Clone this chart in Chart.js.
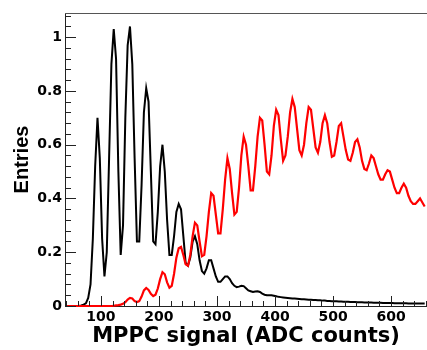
<!DOCTYPE html>
<html>
<head>
<meta charset="utf-8">
<script src="https://cdn.jsdelivr.net/npm/chart.js@4.4.1/dist/chart.umd.min.js"></script>
<style>
  html, body { margin: 0; padding: 0; background: #fff; }
</style>
</head>
<body>
<canvas id="mppc" width="427" height="350"></canvas>
<script>
// histogram binning (ADC counts)
const binStart = 40;
const binWidth = 4;

// pedestal / dark-noise spectrum (black), one value per bin, 10 bins per row
const darkEntries = [
  0, 0, 0, 0, 0, 0, 0.002, 0.005, 0.01, 0.03,                       // 40
  0.08, 0.25, 0.52, 0.70, 0.55, 0.25, 0.11, 0.20, 0.55, 0.90,       // 80
  1.03, 0.92, 0.50, 0.19, 0.30, 0.70, 0.97, 1.04, 0.90, 0.55,       // 120
  0.24, 0.24, 0.45, 0.72, 0.81, 0.76, 0.50, 0.24, 0.23, 0.35,       // 160
  0.52, 0.60, 0.50, 0.32, 0.19, 0.19, 0.26, 0.35, 0.38, 0.36,       // 200
  0.26, 0.16, 0.15, 0.18, 0.24, 0.26, 0.23, 0.17, 0.13, 0.12,       // 240
  0.14, 0.17, 0.17, 0.14, 0.11, 0.09, 0.09, 0.10, 0.11, 0.11,       // 280
  0.10, 0.085, 0.075, 0.07, 0.072, 0.075, 0.074, 0.066, 0.058, 0.055, // 320
  0.052, 0.054, 0.055, 0.052, 0.046, 0.042, 0.040, 0.040, 0.040, 0.038, // 360
  0.036, 0.034, 0.033, 0.032, 0.031, 0.030, 0.029, 0.028, 0.028, 0.027, // 400
  0.026, 0.025, 0.025, 0.024, 0.023, 0.023, 0.022, 0.022, 0.021, 0.021, // 440
  0.020, 0.020, 0.019, 0.019, 0.018, 0.018, 0.018, 0.017, 0.017, 0.016, // 480
  0.016, 0.016, 0.015, 0.015, 0.015, 0.014, 0.014, 0.014, 0.013, 0.013, // 520
  0.013, 0.013, 0.012, 0.012, 0.012, 0.012, 0.011, 0.011, 0.011, 0.011, // 560
  0.011, 0.010, 0.010, 0.010, 0.010, 0.010, 0.010, 0.009, 0.009, 0.009, // 600
  0.009, 0.009, 0.009, 0.009, 0.009                                   // 640
];

// LED / light spectrum (red)
const lightEntries = [
  0, 0, 0, 0, 0, 0, 0, 0, 0, 0,                                     // 40
  0, 0, 0, 0, 0, 0, 0, 0, 0, 0,                                     // 80
  0.001, 0.002, 0.003, 0.005, 0.008, 0.014, 0.024, 0.030, 0.028, 0.018, // 120
  0.015, 0.018, 0.035, 0.058, 0.067, 0.060, 0.045, 0.037, 0.042, 0.065, // 160
  0.10, 0.126, 0.118, 0.088, 0.068, 0.075, 0.12, 0.18, 0.215, 0.22, // 200
  0.19, 0.155, 0.15, 0.19, 0.26, 0.31, 0.30, 0.24, 0.185, 0.19,     // 240
  0.26, 0.35, 0.42, 0.41, 0.34, 0.27, 0.27, 0.36, 0.47, 0.55,       // 280
  0.51, 0.42, 0.34, 0.35, 0.44, 0.56, 0.63, 0.60, 0.52, 0.43,       // 320
  0.43, 0.52, 0.63, 0.70, 0.69, 0.60, 0.50, 0.49, 0.56, 0.67,       // 360
  0.73, 0.71, 0.62, 0.54, 0.56, 0.63, 0.72, 0.77, 0.74, 0.66,       // 400
  0.58, 0.56, 0.60, 0.68, 0.74, 0.73, 0.66, 0.59, 0.57, 0.61,       // 440
  0.68, 0.71, 0.68, 0.61, 0.555, 0.56, 0.61, 0.67, 0.68, 0.63,      // 480
  0.58, 0.545, 0.54, 0.57, 0.61, 0.62, 0.59, 0.54, 0.51, 0.505,     // 520
  0.53, 0.56, 0.55, 0.52, 0.49, 0.47, 0.47, 0.49, 0.505, 0.50,      // 560
  0.47, 0.44, 0.42, 0.42, 0.44, 0.455, 0.44, 0.41, 0.39, 0.38,      // 600
  0.38, 0.39, 0.40, 0.385, 0.37                                     // 640
];

const xTicks = [100, 200, 300, 400, 500, 600];
const yTicks = [0, 0.2, 0.4, 0.6, 0.8, 1];

const toPoints = vals => vals.map((v, i) => ({ x: binStart + binWidth * (i + 0.5), y: v }));

// ROOT-style inward ticks + top frame line
const rootTicks = {
  id: 'rootTicks',
  afterDraw(chart) {
    const { ctx, chartArea: a, scales: { x, y } } = chart;
    ctx.save();
    ctx.strokeStyle = '#222';
    ctx.lineWidth = 1;
    ctx.beginPath();
    for (let v = 40; v <= 660; v += 20) {
      const px = Math.round(x.getPixelForValue(v)) + 0.5;
      const len = v % 100 === 0 ? 10 : 5;
      ctx.moveTo(px, a.bottom);
      ctx.lineTo(px, a.bottom - len);
    }
    for (let k = 0; k <= 27; k++) {
      const py = Math.round(y.getPixelForValue(k * 0.04)) + 0.5;
      const len = k % 5 === 0 ? 11 : 6;
      ctx.moveTo(a.left, py);
      ctx.lineTo(a.left + len, py);
    }
    ctx.stroke();
    ctx.strokeStyle = '#555';
    ctx.beginPath();
    ctx.moveTo(a.left, a.top + 0.5);
    ctx.lineTo(a.right, a.top + 0.5);
    ctx.stroke();
    ctx.restore();
  }
};

const tickFont = { family: 'DejaVu Sans', weight: 'bold', size: 14 };

new Chart(document.getElementById('mppc'), {
  type: 'line',
  data: {
    datasets: [
      {
        label: 'dark',
        data: toPoints(darkEntries),
        borderColor: '#000000',
        borderWidth: 2,
        pointRadius: 0,
        tension: 0,
        fill: false,
        clip: false,
        order: 1
      },
      {
        label: 'light',
        data: toPoints(lightEntries),
        borderColor: '#ff0000',
        borderWidth: 2.2,
        pointRadius: 0,
        tension: 0,
        fill: false,
        clip: false,
        order: 0
      }
    ]
  },
  options: {
    responsive: false,
    animation: false,
    layout: { padding: { top: 13, right: 0, left: 0, bottom: 0 } },
    plugins: {
      legend: { display: false },
      tooltip: { enabled: false }
    },
    scales: {
      x: {
        type: 'linear',
        min: 38,
        max: 662,
        afterFit: s => { s.height = 44; },
        afterBuildTicks: s => { s.ticks = xTicks.map(v => ({ value: v })); },
        grid: { display: false, drawTicks: false },
        border: { display: true, color: '#222', width: 1 },
        ticks: {
          font: tickFont,
          color: '#000',
          padding: 3,
          maxRotation: 0,
          autoSkip: false
        },
        title: {
          display: true,
          text: 'MPPC signal (ADC counts)',
          color: '#000',
          font: { family: 'DejaVu Sans', weight: 'bold', size: 21 },
          padding: { top: 0, bottom: 1 }
        }
      },
      y: {
        min: 0,
        max: 1.09,
        afterFit: s => { s.width = 65; },
        afterBuildTicks: s => { s.ticks = yTicks.map(v => ({ value: v })); },
        grid: { display: false, drawTicks: false },
        border: { display: true, color: '#222', width: 1 },
        ticks: {
          font: tickFont,
          color: '#000',
          padding: 3,
          callback: v => String(Math.round(v * 10) / 10)
        },
        title: {
          display: true,
          text: 'Entries',
          color: '#000',
          font: { family: 'Liberation Sans', weight: 'bold', size: 20 },
          padding: { top: 10, bottom: 0 }
        }
      }
    }
  },
  plugins: [rootTicks]
});
</script>
</body>
</html>
